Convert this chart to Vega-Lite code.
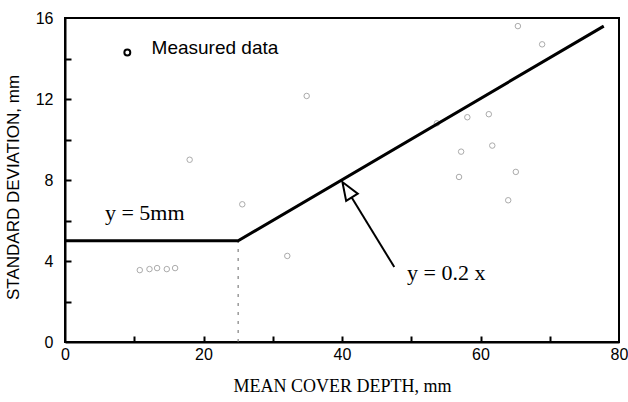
{
  "$schema": "https://vega.github.io/schema/vega-lite/v6.json",
  "autosize": {"type": "none"},
  "width": 554,
  "height": 324,
  "padding": {"left": 65, "top": 18, "right": 9, "bottom": 60},
  "background": "white",
  "config": {
    "view": {"stroke": "black", "strokeWidth": 2},
    "axis": {
      "grid": false,
      "ticks": false,
      "domainColor": "black",
      "domainWidth": 2,
      "labelFont": "Liberation Sans",
      "labelFontSize": 16,
      "labelColor": "black",
      "titleColor": "black",
      "titleFontWeight": "normal"
    }
  },
  "resolve": {"axis": {"x": "independent", "y": "independent"}},
  "layer": [
    {
      "data": {"values": [
        {"x": 10.8, "y": 3.55}, {"x": 12.2, "y": 3.6}, {"x": 13.3, "y": 3.65}, {"x": 14.7, "y": 3.6}, {"x": 15.9, "y": 3.65},
        {"x": 18.0, "y": 9.0}, {"x": 34.9, "y": 12.15}, {"x": 25.6, "y": 6.8}, {"x": 32.1, "y": 4.25},
        {"x": 65.4, "y": 15.6}, {"x": 68.9, "y": 14.7}, {"x": 58.1, "y": 11.1}, {"x": 61.2, "y": 11.25},
        {"x": 61.7, "y": 9.7}, {"x": 57.2, "y": 9.4}, {"x": 56.9, "y": 8.15}, {"x": 65.1, "y": 8.4},
        {"x": 64.0, "y": 7.0}, {"x": 53.7, "y": 10.8}
      ]},
      "mark": {"type": "point", "shape": "circle", "filled": false, "stroke": "#888", "strokeWidth": 1, "size": 30},
      "encoding": {
        "x": {"field": "x", "type": "quantitative", "scale": {"domain": [0, 80], "nice": false},
          "axis": {"orient": "bottom", "values": [0, 20, 40, 60, 80], "labelPadding": 4, "labelFlush": false,
            "title": "MEAN COVER DEPTH, mm", "titleFont": "Liberation Serif", "titleFontSize": 18,
            "titleY": 49, "titleBaseline": "alphabetic"}},
        "y": {"field": "y", "type": "quantitative", "scale": {"domain": [0, 16], "nice": false},
          "axis": {"orient": "left", "values": [0, 4, 8, 12, 16], "labelPadding": 12, "labelFlush": false,
            "title": "STANDARD DEVIATION, mm", "titleFont": "Liberation Sans", "titleFontSize": 17,
            "titleX": -52, "titleY": 169, "titleAngle": -90, "titleAlign": "center", "titleBaseline": "middle"}}
      }
    },
    {
      "data": {"values": [{"x": 25, "y": 0}, {"x": 25, "y": 5}]},
      "mark": {"type": "line", "color": "#666", "strokeWidth": 1, "strokeDash": [3, 6]},
      "encoding": {
        "x": {"field": "x", "type": "quantitative",
          "axis": {"orient": "bottom", "values": [10, 20, 30, 40, 50, 60, 70], "offset": -6, "domain": false, "labels": false, "ticks": true, "tickSize": 6, "tickWidth": 2, "tickColor": "black", "tickOpacity": 1, "title": null, "zindex": 1}},
        "y": {"field": "y", "type": "quantitative",
          "axis": {"orient": "left", "values": [2, 4, 6, 8, 10, 12, 14], "offset": -6, "domain": false, "labels": false, "ticks": true, "tickSize": 6, "tickWidth": 2, "tickColor": "black", "tickOpacity": 1, "title": null, "zindex": 1}}
      }
    },
    {
      "data": {"values": [{"x": 0, "y": 5}, {"x": 25, "y": 5}, {"x": 77.8, "y": 15.6}]},
      "mark": {"type": "line", "color": "black", "strokeWidth": 3},
      "encoding": {"x": {"field": "x", "type": "quantitative", "axis": null}, "y": {"field": "y", "type": "quantitative", "axis": null}}
    },
    {
      "data": {"values": [{"x": 47.55, "y": 3.7, "x2": 41.4, "y2": 7.14}]},
      "mark": {"type": "rule", "color": "black", "strokeWidth": 2},
      "encoding": {"x": {"field": "x", "type": "quantitative", "axis": null}, "y": {"field": "y", "type": "quantitative", "axis": null}, "x2": {"field": "x2"}, "y2": {"field": "y2"}}
    },
    {
      "data": {"values": [{"x": 40.06, "y": 7.9}]},
      "mark": {"type": "point", "shape": "M0,0 L-0.38,1 L0.38,1 Z", "filled": true, "fill": "white", "stroke": "black", "strokeWidth": 2, "size": 1300, "angle": 328, "opacity": 1},
      "encoding": {"x": {"field": "x", "type": "quantitative", "axis": null}, "y": {"field": "y", "type": "quantitative", "axis": null}}
    },
    {
      "data": {"values": [{"x": 9.0, "y": 14.3}]},
      "mark": {"type": "point", "shape": "circle", "filled": false, "stroke": "black", "strokeWidth": 2, "size": 35, "opacity": 1},
      "encoding": {"x": {"field": "x", "type": "quantitative", "axis": null}, "y": {"field": "y", "type": "quantitative", "axis": null}}
    },
    {
      "data": {"values": [{"x": 12.5, "y": 14.5, "t": "Measured data"}]},
      "mark": {"type": "text", "font": "Liberation Sans", "fontSize": 19, "align": "left", "baseline": "middle", "color": "black"},
      "encoding": {"x": {"field": "x", "type": "quantitative", "axis": null}, "y": {"field": "y", "type": "quantitative", "axis": null}, "text": {"field": "t"}}
    },
    {
      "data": {"values": [{"x": 5.76, "y": 6.02, "t": "y = 5mm"}, {"x": 49.4, "y": 3.06, "t": "y = 0.2 x"}]},
      "mark": {"type": "text", "font": "Liberation Serif", "fontSize": 22, "align": "left", "baseline": "alphabetic", "color": "black"},
      "encoding": {"x": {"field": "x", "type": "quantitative", "axis": null}, "y": {"field": "y", "type": "quantitative", "axis": null}, "text": {"field": "t"}}
    }
  ]
}
